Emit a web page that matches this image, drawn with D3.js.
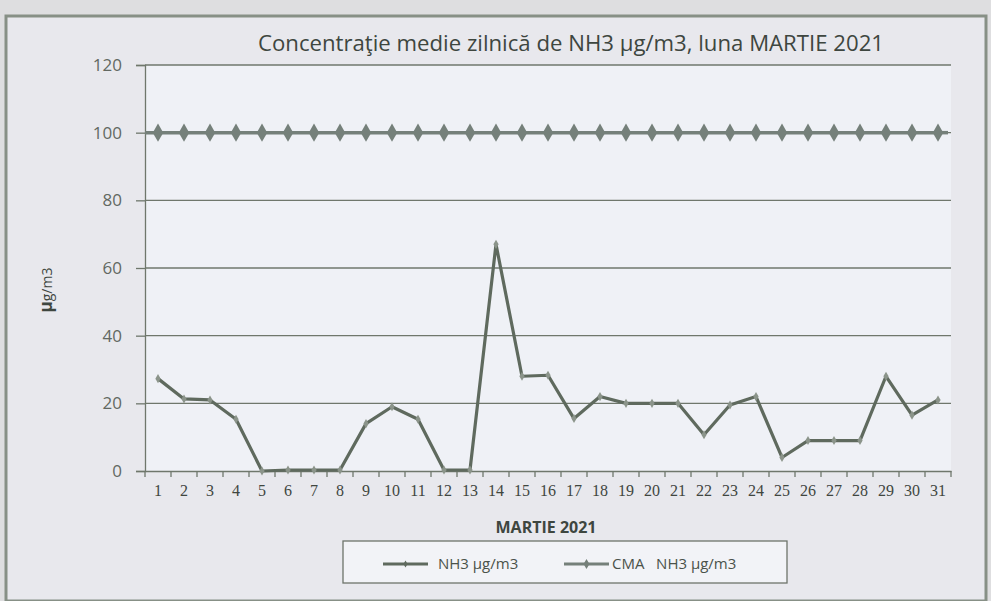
<!DOCTYPE html>
<html>
<head>
<meta charset="utf-8">
<script src="https://cdn.jsdelivr.net/npm/d3@7"></script>
<style>
  html, body { margin: 0; padding: 0; background: #dedee0; }
  svg { display: block; }
</style>
</head>
<body>
<svg id="chart" width="991" height="601"></svg>
<script>
const days = d3.range(1, 32).map(String);
const nh3 = [27.3, 21.3, 21, 15.3, 0, 0.3, 0.3, 0.3, 14, 19, 15.3, 0.3, 0.3, 67, 28, 28.3, 15.5, 22, 20, 20, 20, 10.7, 19.5, 22, 4, 9, 9, 9, 28, 16.5, 21];
const cma = days.map(() => 100);
const yTicks = [0, 20, 40, 60, 80, 100, 120];
const seriesNames = ["NH3 \u00b5g/m3", "CMA   NH3 \u00b5g/m3"];
const title = "Concentra\u0163ie medie zilnic\u0103 de NH3 \u00b5g/m3, luna MARTIE 2021";

const svg = d3.select("#chart");
const lineCol = "#5f6a5e";
const cmaCol = "#75807a";
const gridCol = "#6f776c";

// frame
svg.append("rect").attr("x", 6).attr("y", 16).attr("width", 980).attr("height", 585)
  .attr("fill", "#e8e8ed").attr("stroke", "#879086").attr("stroke-width", 3);

const x = d3.scaleBand().domain(days).range([145, 951]).padding(0);
const y = d3.scaleLinear().domain([0, 120]).range([471, 65]);

// plot background
svg.append("rect").attr("x", 145).attr("y", 65).attr("width", 806).attr("height", 406)
  .attr("fill", "#eff1f6");

// gridlines
svg.append("g").selectAll("line").data(yTicks.filter(d => d > 0)).join("line")
  .attr("x1", 145).attr("x2", 951)
  .attr("y1", d => y(d)).attr("y2", d => y(d))
  .attr("stroke", gridCol).attr("stroke-width", 1.3);

// y axis
const yAxis = svg.append("g").attr("transform", "translate(145,0)")
  .call(d3.axisLeft(y).tickValues(yTicks).tickSize(9).tickPadding(14));
yAxis.select(".domain").attr("stroke", gridCol).attr("stroke-width", 1.3);
yAxis.selectAll(".tick line").attr("stroke", gridCol).attr("stroke-width", 1.3);
yAxis.selectAll(".tick text").attr("fill", "#626862").style("font-family", "Open Sans, sans-serif").style("font-size", "17px");

// x axis
const xAxis = svg.append("g").attr("transform", "translate(0,471)")
  .call(d3.axisBottom(x).tickSize(0).tickPadding(14));
xAxis.select(".domain").attr("stroke", gridCol).attr("stroke-width", 1.3);
xAxis.selectAll(".tick text").attr("fill", "#3f463f").style("font-family", "Liberation Serif, serif").style("font-size", "16px");
// boundary ticks
xAxis.append("g").selectAll("line").data(days.concat(["end"])).join("line")
  .attr("x1", (d, i) => i < days.length ? x(d) : x.range()[1])
  .attr("x2", (d, i) => i < days.length ? x(d) : x.range()[1])
  .attr("y1", 0).attr("y2", 6)
  .attr("stroke", gridCol).attr("stroke-width", 1.3);

const cx = d => x(d) + x.bandwidth() / 2;

// CMA line
svg.append("path")
  .attr("d", d3.line().x((d, i) => i === 0 ? 145 : cx(days[i])).y(d => y(d))(cma))
  .attr("fill", "none").attr("stroke", cmaCol).attr("stroke-width", 3.5);
svg.append("line").attr("x1", cx(days[30])).attr("x2", 948).attr("y1", y(100)).attr("y2", y(100))
  .attr("stroke", cmaCol).attr("stroke-width", 3.5);
const diamond = d3.symbol().type(d3.symbolDiamond);
svg.append("g").selectAll("path").data(cma).join("path")
  .attr("transform", (d, i) => `translate(${cx(days[i])},${y(d)})`)
  .attr("d", diamond.size(95)())
  .attr("fill", cmaCol);

// NH3 line
svg.append("path")
  .attr("d", d3.line().x((d, i) => cx(days[i])).y(d => y(d))(nh3))
  .attr("fill", "none").attr("stroke", lineCol).attr("stroke-width", 3.2).attr("stroke-linejoin", "round");
svg.append("g").selectAll("path").data(nh3).join("path")
  .attr("transform", (d, i) => `translate(${cx(days[i])},${y(d)})`)
  .attr("d", diamond.size(24)())
  .attr("fill", "#8b948a");

// title
svg.append("text").attr("x", 571).attr("y", 51).attr("text-anchor", "middle")
  .attr("fill", "#3e463f").style("font-family", "Open Sans, sans-serif").style("font-size", "21px")
  .attr("textLength", 626).attr("lengthAdjust", "spacingAndGlyphs")
  .text(title);

// y axis title
svg.append("text").attr("transform", "translate(52,290) rotate(-90)").attr("text-anchor", "middle")
  .attr("fill", "#3e463f").style("font-family", "Open Sans, sans-serif").style("font-size", "14px")
  .html('<tspan font-weight="bold" font-size="17px">\u00b5</tspan>g/m3');

// x axis title
svg.append("text").attr("x", 546).attr("y", 533).attr("text-anchor", "middle")
  .attr("fill", "#3e463f").style("font-family", "Open Sans, sans-serif").style("font-size", "16px")
  .style("font-weight", "bold").text("MARTIE 2021");

// legend
const lg = svg.append("g");
lg.append("rect").attr("x", 343).attr("y", 541).attr("width", 444).attr("height", 42)
  .attr("fill", "#f2f3f7").attr("stroke", "#6d746b").attr("stroke-width", 1.3);
const legendItems = [
  { name: seriesNames[0], x0: 383, x1: 428, tx: 438, col: lineCol, ms: 14 },
  { name: seriesNames[1], x0: 564, x1: 609, tx: 612, col: cmaCol, ms: 30 }
];
legendItems.forEach(it => {
  lg.append("line").attr("x1", it.x0).attr("x2", it.x1).attr("y1", 564).attr("y2", 564)
    .attr("stroke", it.col).attr("stroke-width", 3);
  lg.append("path").attr("transform", `translate(${(it.x0 + it.x1) / 2},564)`)
    .attr("d", diamond.size(it.ms)()).attr("fill", it.col);
  lg.append("text").attr("x", it.tx).attr("y", 569).attr("fill", "#4a524a")
    .style("font-family", "Open Sans, sans-serif").style("font-size", "15px")
    .attr("xml:space", "preserve").style("white-space", "pre").text(it.name);
});
</script>
</body>
</html>
